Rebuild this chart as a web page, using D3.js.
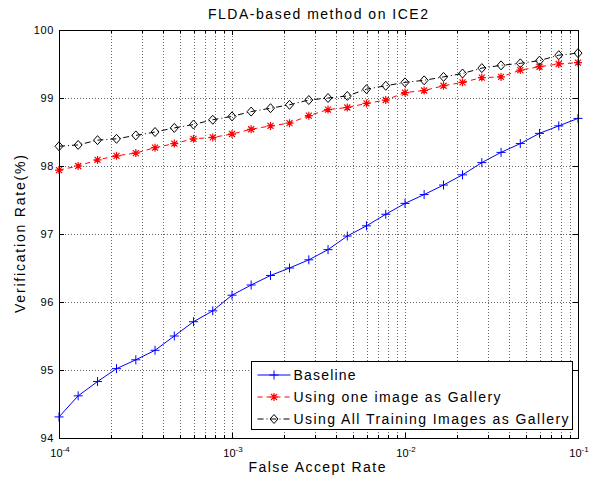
<!DOCTYPE html>
<html>
<head>
<meta charset="utf-8">
<script src="https://cdn.jsdelivr.net/npm/d3@7"></script>
<style>
  body { margin: 0; background: #fff; }
  text { font-family: "Liberation Sans", Arial, Helvetica, sans-serif; fill: #000; }
</style>
</head>
<body>
<div id="chart"></div>
<script>
// false accept rate (9 points per decade)
const FAR = [
  1e-4, 1.29e-4, 1.67e-4, 2.15e-4, 2.78e-4, 3.59e-4, 4.64e-4, 5.99e-4, 7.74e-4,
  1e-3, 1.29e-3, 1.67e-3, 2.15e-3, 2.78e-3, 3.59e-3, 4.64e-3, 5.99e-3, 7.74e-3,
  1e-2, 1.29e-2, 1.67e-2, 2.15e-2, 2.78e-2, 3.59e-2, 4.64e-2, 5.99e-2, 7.74e-2,
  1e-1
];
const BASELINE = [94.31, 94.62, 94.83, 95.02, 95.15, 95.29, 95.50, 95.71, 95.87, 96.10,
  96.25, 96.39, 96.50, 96.62, 96.77, 96.97, 97.12, 97.29, 97.45, 97.58,
  97.72, 97.87, 98.05, 98.20, 98.33, 98.48, 98.59, 98.70];
const ONE_IMAGE = [97.94, 98.00, 98.09, 98.15, 98.19, 98.27, 98.33, 98.40, 98.42, 98.47,
  98.54, 98.59, 98.63, 98.74, 98.83, 98.86, 98.92, 98.97, 99.08, 99.11,
  99.18, 99.23, 99.30, 99.31, 99.41, 99.46, 99.50, 99.52];
const ALL_IMAGES = [98.29, 98.31, 98.38, 98.40, 98.45, 98.50, 98.56, 98.61, 98.68, 98.73,
  98.80, 98.85, 98.90, 98.97, 99.00, 99.03, 99.13, 99.18, 99.23, 99.26,
  99.31, 99.36, 99.44, 99.48, 99.51, 99.55, 99.63, 99.66];
const SERIES_NAMES = ['Baseline', 'Using one image as Gallery', 'Using All Training Images as Gallery'];
const Y_TICKS = [94, 95, 96, 97, 98, 99, 100];
const X_MAJOR = [1e-4, 1e-3, 1e-2, 1e-1];
const X_EXP = ['-4', '-3', '-2', '-1'];

const W = 595, H = 482;
const m = {left: 59, top: 30, right: 17, bottom: 44};

const svg = d3.select('#chart').append('svg')
  .attr('width', W).attr('height', H);

const x = d3.scaleLog().domain([1e-4, 1e-1]).range([m.left, W - m.right]);
const y = d3.scaleLinear().domain([94, 100]).range([H - m.bottom, m.top]);

// minor log positions
const xMinor = [];
X_MAJOR.slice(0, -1).forEach(d => { for (let k = 2; k <= 9; k++) xMinor.push(d * k); });
const snap = v => Math.round(v) + 0.5;

// grid
const grid = svg.append('g').attr('stroke', '#666').attr('stroke-width', 1)
  .attr('stroke-dasharray', '1,2').attr('fill', 'none');
X_MAJOR.concat(xMinor).forEach(d => {
  grid.append('line').attr('x1', snap(x(d))).attr('x2', snap(x(d)))
    .attr('y1', y(100)).attr('y2', y(94));
});
Y_TICKS.forEach(d => {
  grid.append('line').attr('x1', x(1e-4)).attr('x2', x(1e-1))
    .attr('y1', snap(y(d))).attr('y2', snap(y(d)));
});

// marker shapes
const markers = {
  plus: (g, cx, cy, c) => g.append('path')
    .attr('d', `M${cx-4.5},${cy}H${cx+4.5}M${cx},${cy-4.5}V${cy+4.5}`)
    .attr('stroke', c).attr('stroke-width', 1).attr('fill', 'none'),
  star: (g, cx, cy, c) => g.append('path')
    .attr('d', `M${cx-4},${cy}H${cx+4}M${cx},${cy-4}V${cy+4}M${cx-3},${cy-3}L${cx+3},${cy+3}M${cx-3},${cy+3}L${cx+3},${cy-3}`)
    .attr('stroke', c).attr('stroke-width', 1.2).attr('fill', 'none'),
  diamond: (g, cx, cy, c) => g.append('path')
    .attr('d', `M${cx},${cy-4.5}L${cx+4},${cy}L${cx},${cy+4.5}L${cx-4},${cy}Z`)
    .attr('stroke', c).attr('stroke-width', 1).attr('fill', 'none')
};

const series = [
  {name: SERIES_NAMES[0], values: BASELINE, color: '#0000ff', dash: null, marker: 'plus'},
  {name: SERIES_NAMES[1], values: ONE_IMAGE, color: '#ff0000', dash: '5,4', marker: 'star'},
  {name: SERIES_NAMES[2], values: ALL_IMAGES, color: '#000000', dash: '6,3,1,3', marker: 'diamond'}
];

const line = d3.line().x(d => x(d[0])).y(d => y(d[1]));
series.forEach(s => {
  const pts = FAR.map((f, i) => [f, s.values[i]]);
  svg.append('path').datum(pts).attr('d', line)
    .attr('fill', 'none').attr('stroke', s.color).attr('stroke-width', 1)
    .attr('stroke-dasharray', s.dash);
  const mg = svg.append('g');
  pts.forEach(p => markers[s.marker](mg, x(p[0]), y(p[1]), s.color));
});

// axes box + inward ticks
const axes = svg.append('g').attr('stroke', '#000').attr('stroke-width', 1).attr('fill', 'none');
axes.append('rect').attr('x', snap(x(1e-4))).attr('y', snap(y(100)))
  .attr('width', Math.round(x(1e-1)) - Math.round(x(1e-4)))
  .attr('height', Math.round(y(94)) - Math.round(y(100)));
Y_TICKS.forEach(d => {
  const yy = snap(y(d));
  axes.append('line').attr('x1', x(1e-4)).attr('x2', x(1e-4) + 5).attr('y1', yy).attr('y2', yy);
  axes.append('line').attr('x1', x(1e-1)).attr('x2', x(1e-1) - 5).attr('y1', yy).attr('y2', yy);
});
X_MAJOR.forEach(d => {
  const xx = snap(x(d));
  axes.append('line').attr('x1', xx).attr('x2', xx).attr('y1', y(94)).attr('y2', y(94) - 5);
  axes.append('line').attr('x1', xx).attr('x2', xx).attr('y1', y(100)).attr('y2', y(100) + 5);
});
xMinor.forEach(d => {
  const xx = snap(x(d));
  axes.append('line').attr('x1', xx).attr('x2', xx).attr('y1', y(94)).attr('y2', y(94) - 3);
  axes.append('line').attr('x1', xx).attr('x2', xx).attr('y1', y(100)).attr('y2', y(100) + 3);
});

// tick labels
svg.append('g').selectAll('text').data(Y_TICKS).join('text')
  .attr('x', x(1e-4) - 5).attr('y', d => y(d) + 4)
  .attr('text-anchor', 'end').attr('font-size', 11).attr('letter-spacing', 0.6)
  .text(d => d);
X_MAJOR.forEach((d, i) => {
  const t = svg.append('text').attr('x', x(d) + 1).attr('y', 457)
    .attr('text-anchor', 'middle').attr('font-size', 11);
  t.append('tspan').text('10');
  t.append('tspan').attr('dy', -5).attr('font-size', 8).text(X_EXP[i]);
});

// titles
svg.append('text').attr('x', 318).attr('y', 19).attr('text-anchor', 'middle')
  .attr('font-size', 14).attr('textLength', 220).attr('lengthAdjust', 'spacing')
  .text('FLDA-based method on ICE2');
svg.append('text').attr('x', 317).attr('y', 472).attr('text-anchor', 'middle')
  .attr('font-size', 14).attr('textLength', 137).attr('lengthAdjust', 'spacing')
  .text('False Accept Rate');
svg.append('text').attr('transform', 'translate(25,234) rotate(-90)').attr('text-anchor', 'middle')
  .attr('font-size', 14).attr('textLength', 158).attr('lengthAdjust', 'spacing')
  .text('Verification Rate(%)');

// legend
const lg = svg.append('g').attr('transform', 'translate(251.5,361.5)');
lg.append('rect').attr('width', 321).attr('height', 68)
  .attr('fill', '#fff').attr('stroke', '#000').attr('stroke-width', 1);
const legendWidths = [62, 207, 275];
series.forEach((s, i) => {
  const ly = 13.5 + i * 22;
  lg.append('line').attr('x1', 6).attr('x2', 39).attr('y1', ly).attr('y2', ly)
    .attr('stroke', s.color).attr('stroke-width', 1).attr('stroke-dasharray', s.dash);
  markers[s.marker](lg, 22.5, ly, s.color);
  lg.append('text').attr('x', 42).attr('y', ly + 5).attr('font-size', 14)
    .attr('textLength', legendWidths[i]).attr('lengthAdjust', 'spacing')
    .text(s.name);
});
</script>
</body>
</html>
